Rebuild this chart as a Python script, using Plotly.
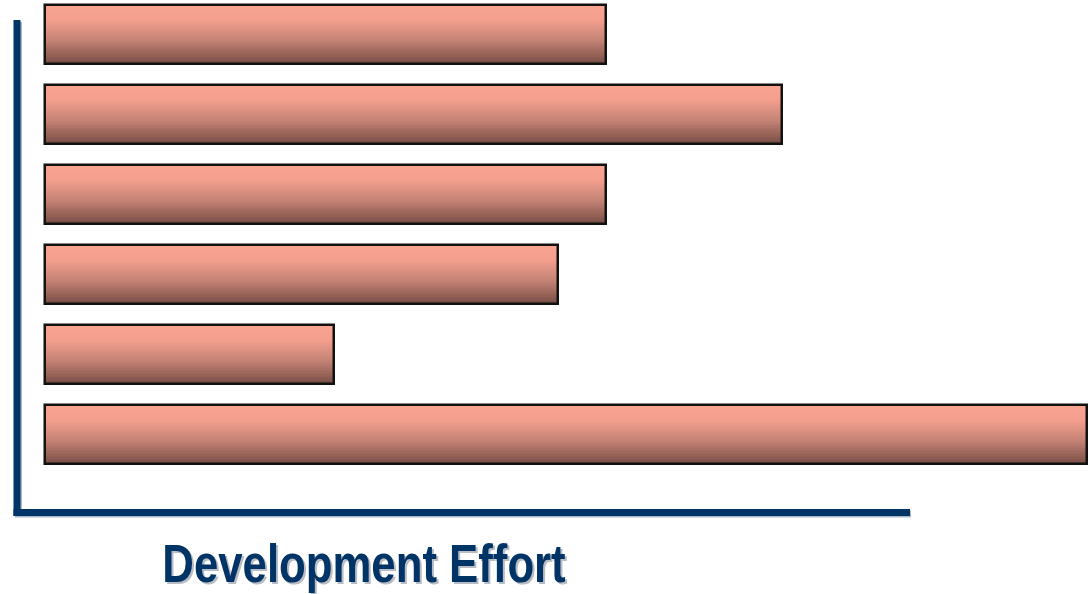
import plotly.graph_objects as go

# ---- data (bars are unlabeled in the original) ----
categories = ["Item 1", "Item 2", "Item 3", "Item 4", "Item 5", "Item 6"]
effort = [35, 46, 35, 32, 18, 65]
axis_title = "Development Effort"

W, H = 1090, 594
BAR_W = 0.737
N_STRIPS = 40

# vertical gradient stops (t=0 top, t=1 bottom)
STOPS = [(0.0, (248, 164, 147)), (0.24, (245, 160, 143)),
         (0.6, (196, 130, 116)), (1.0, (118, 76, 68))]


def grad(t):
    for (t0, c0), (t1, c1) in zip(STOPS[:-1], STOPS[1:]):
        if t <= t1:
            f = (t - t0) / (t1 - t0) if t1 > t0 else 0
            return "rgb(%d,%d,%d)" % tuple(round(a + (b - a) * f) for a, b in zip(c0, c1))
    return "rgb(%d,%d,%d)" % STOPS[-1][1]


fig = go.Figure()
s = BAR_W / N_STRIPS
for k in range(N_STRIPS):
    off = -BAR_W / 2 + k * s
    wid = min(s * 1.8, BAR_W / 2 - off)
    fig.add_trace(go.Bar(
        x=effort, y=categories, orientation="h",
        width=wid, offset=off,
        marker=dict(color=grad((k + 0.5) / N_STRIPS), line=dict(width=0)),
        hoverinfo="skip", showlegend=False,
    ))

# outline
fig.add_trace(go.Bar(
    x=effort, y=categories, orientation="h",
    width=BAR_W, offset=-BAR_W / 2,
    marker=dict(color="rgba(0,0,0,0)", line=dict(color="#111111", width=2.5)),
    hoverinfo="skip", showlegend=False,
))

NAVY = "#003366"
SHADOW = "#AAB6CA"


def px(x):
    return x / W


def py(y):
    return 1 - y / H


shapes = [
    # shadows
    dict(type="line", xref="paper", yref="paper", x0=px(18.5), x1=px(18.5), y0=py(22), y1=py(516),
         line=dict(color=SHADOW, width=7)),
    dict(type="line", xref="paper", yref="paper", x0=px(15), x1=px(911), y0=py(514), y1=py(514),
         line=dict(color=SHADOW, width=7)),
    # axis lines
    dict(type="line", xref="paper", yref="paper", x0=px(17), x1=px(17), y0=py(20), y1=py(516),
         line=dict(color=NAVY, width=7)),
    dict(type="line", xref="paper", yref="paper", x0=px(13.5), x1=px(910), y0=py(512.5), y1=py(512.5),
         line=dict(color=NAVY, width=7)),
]

font_family = "Liberation Sans, Arial, sans-serif"
TITLE_SIZE = 54
annotations = [
    dict(text=axis_title, xref="paper", yref="paper", x=px(366), y=py(565),
         xanchor="center", yanchor="middle", showarrow=False,
         font=dict(family=font_family, size=TITLE_SIZE, color="#B8BCC4", weight="bold")),
    dict(text=axis_title, xref="paper", yref="paper", x=px(364), y=py(563),
         xanchor="center", yanchor="middle", showarrow=False,
         font=dict(family=font_family, size=TITLE_SIZE, color=NAVY, weight="bold")),
]

scale = 1042 / 65.0
Y0, DY = 34.6, 80.07
fig.update_layout(
    width=W, height=H,
    margin=dict(l=0, r=0, t=0, b=0),
    paper_bgcolor="white", plot_bgcolor="white",
    barmode="overlay", bargap=0,
    xaxis=dict(visible=False, range=[-45 / scale, (W - 45) / scale]),
    yaxis=dict(visible=False, type="category", categoryorder="array",
               categoryarray=categories, range=[(H - Y0) / DY, -Y0 / DY]),
    shapes=shapes, annotations=annotations,
)

post = """
document.body.style.margin='0';
document.body.style.overflow='hidden';
document.querySelectorAll('.annotation-text').forEach(function(t){
  t.style.transformBox='fill-box';
  t.style.transformOrigin='center';
  t.style.transform='scaleX(0.81)';
});
"""

fig.write_html("out.html", post_script=post, config={"displayModeBar": False})
